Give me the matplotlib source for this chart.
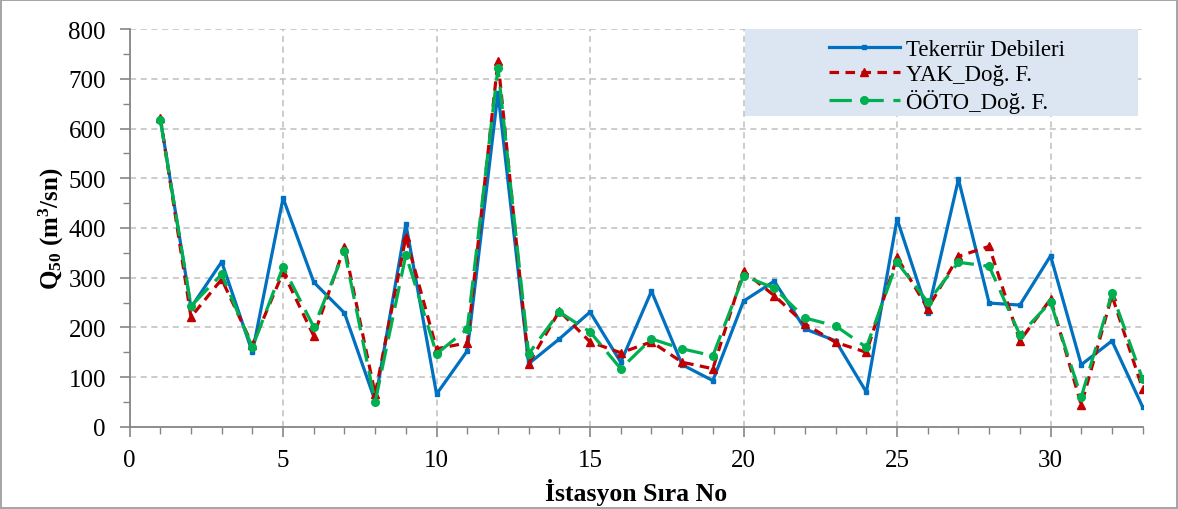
import matplotlib
matplotlib.use('Agg')
import matplotlib.pyplot as plt
import matplotlib.patches as mpatches
from matplotlib.ticker import MultipleLocator

plt.rcParams.update({
    'font.family':       'Liberation Serif',
    'mathtext.fontset':  'custom',
    'mathtext.rm':       'Liberation Serif',
    'mathtext.bf':       'Liberation Serif:bold',
    'mathtext.default':  'bf',
})

stations = list(range(1, 34))

tekerrur = [620, 240, 332, 150, 460, 291, 229, 52, 408, 66,
            153, 672, 127, 177, 231, 130, 273, 125, 93, 253,
            293, 197, 173, 70, 418, 230, 498, 249, 245, 344,
            125, 173, 40]

yak = [622, 221, 297, 165, 311, 183, 362, 66, 382, 157,
       169, 736, 127, 233, 171, 149, 171, 130, 117, 313,
       264, 207, 170, 150, 341, 238, 343, 363, 173, 257,
       44, 264, 76]

ooto = [618, 243, 307, 160, 322, 201, 354, 50, 346, 147,
        197, 722, 147, 231, 191, 117, 177, 157, 143, 304,
        279, 219, 203, 160, 331, 251, 331, 323, 185, 251,
        60, 269, 96]

fig = plt.figure(figsize=(11.78, 5.10), dpi=100)
fig.patch.set_edgecolor('#A6A6A6')
fig.patch.set_linewidth(1.5)
ax = fig.add_axes([0.110, 0.161, 0.860, 0.780])

ax.plot(stations, tekerrur, color='#0070C0', lw=2.3, marker='s', ms=3.2,
        label='Tekerrür Debileri', zorder=3)
ax.plot(stations, yak, color='#C00000', lw=2.3, ls=(0, (3, 2)), marker='^', ms=6,
        label='YAK_Doğ. F.', zorder=4)
ax.plot(stations, ooto, color='#00B050', lw=2.3, ls=(0, (7, 3)), marker='o', ms=5.5,
        label='ÖÖTO_Doğ. F.', zorder=5)

ax.set_xlim(0, 33)
ax.set_ylim(0, 800)
ax.xaxis.set_major_locator(MultipleLocator(5))
ax.xaxis.set_minor_locator(MultipleLocator(1))
ax.yaxis.set_major_locator(MultipleLocator(100))
ax.yaxis.set_minor_locator(MultipleLocator(50))

ax.grid(True, which='major', color='#BFBFBF', ls=(0, (4, 3)), lw=1.1)
ax.set_axisbelow(True)
for side in ['top', 'right']:
    ax.spines[side].set_visible(False)
for side in ['left', 'bottom']:
    ax.spines[side].set_color('#868686')
    ax.spines[side].set_linewidth(1.3)
ax.tick_params(which='both', direction='out', color='#868686', labelsize=18)
ax.tick_params(axis='y', pad=10)
ax.tick_params(axis='x', pad=9)
ax.tick_params(which='major', length=7, width=1.2)
ax.tick_params(which='minor', length=5, width=1.0)

ax.set_xlabel('İstasyon Sıra No', fontsize=18.5, fontweight='bold', labelpad=5)
ax.set_ylabel('Q$_{50}$ (m$^{3}$/sn)', fontsize=18, fontweight='bold', labelpad=2)

# shaded legend panel in the upper right corner
ax.add_patch(mpatches.Rectangle((0.607, 0.781), 0.388, 0.219, transform=ax.transAxes,
                                facecolor='#DCE6F2', edgecolor='none', zorder=6))
ax.legend(loc='upper left', bbox_to_anchor=(0.68, 1.0), frameon=False,
          fontsize=16.5, handlelength=3.1, handletextpad=0.25, labelspacing=0.16,
          borderaxespad=0.05).set_zorder(7)

fig.savefig('out.png', dpi=100)
